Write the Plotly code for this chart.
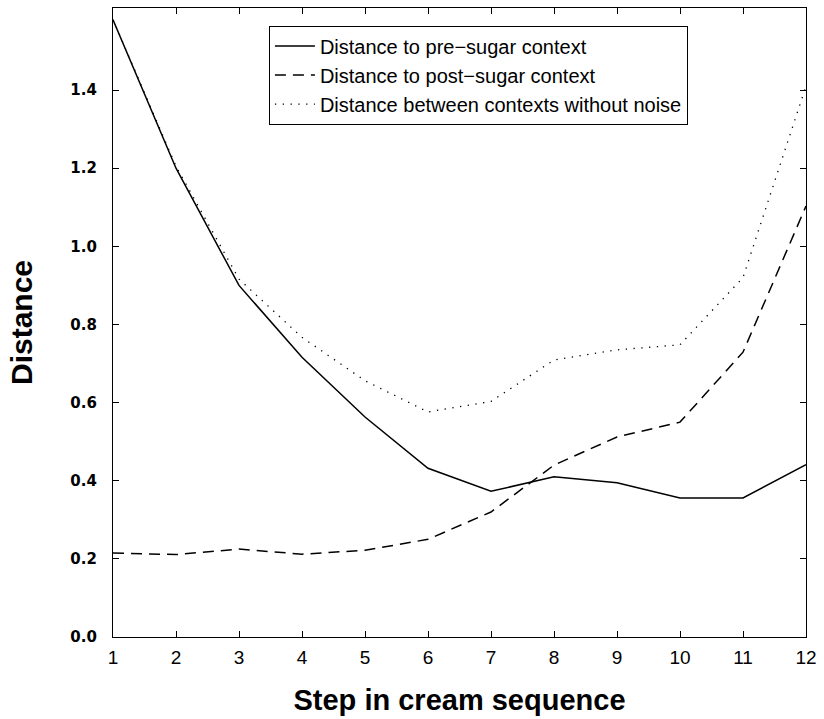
import plotly.graph_objects as go

steps = [1, 2, 3, 4, 5, 6, 7, 8, 9, 10, 11, 12]
pre_sugar = [1.58, 1.20, 0.90, 0.716, 0.563, 0.432, 0.373, 0.410, 0.395, 0.356, 0.356, 0.441]
post_sugar = [0.215, 0.211, 0.225, 0.212, 0.222, 0.250, 0.320, 0.440, 0.512, 0.550, 0.729, 1.103]
no_noise = [1.58, 1.205, 0.916, 0.767, 0.656, 0.576, 0.603, 0.709, 0.735, 0.748, 0.920, 1.41]

names = ["Distance to pre\u2212sugar context",
         "Distance to post\u2212sugar context",
         "Distance between contexts without noise"]
y_ticks = [0.0, 0.2, 0.4, 0.6, 0.8, 1.0, 1.2, 1.4]

font_family = "Liberation Sans, Arial, sans-serif"

fig = go.Figure()
fig.add_trace(go.Scatter(x=steps, y=pre_sugar, mode="lines", name=names[0],
                         line=dict(color="black", width=1.5)))
fig.add_trace(go.Scatter(x=steps, y=post_sugar, mode="lines", name=names[1],
                         line=dict(color="black", width=1.5, dash="11px,7px")))
fig.add_trace(go.Scatter(x=steps, y=no_noise, mode="lines", name=names[2],
                         line=dict(color="black", width=1.3, dash="1.3px,6.5px")))

fig.update_layout(
    width=824, height=719,
    margin=dict(l=113, r=13, t=7, b=82),
    paper_bgcolor="white", plot_bgcolor="white",
    font=dict(family=font_family, color="black"),
    showlegend=True,
    legend=dict(x=0.225, y=0.972, xanchor="left", yanchor="top",
                bordercolor="black", borderwidth=1, bgcolor="white",
                font=dict(size=20, family=font_family), tracegroupgap=0,
                itemwidth=40),
)
fig.update_xaxes(
    range=[1, 12], tickvals=steps, ticks="inside", ticklen=6, tickcolor="black",
    showline=True, linecolor="black", linewidth=1.2, mirror="allticks",
    showgrid=False, zeroline=False, ticklabelstandoff=3,
    tickfont=dict(size=19, family=font_family),
    title=dict(text="Step in cream sequence", standoff=22,
               font=dict(size=29, family=font_family, weight="bold")),
)
fig.update_yaxes(
    range=[0, 1.61], tickvals=y_ticks, ticktext=[f"{v:.1f}" for v in y_ticks],
    ticks="inside", ticklen=6, tickcolor="black",
    showline=True, linecolor="black", linewidth=1.2, mirror="allticks",
    showgrid=False, zeroline=False, ticklabelstandoff=12,
    tickfont=dict(size=15, family="DejaVu Sans, sans-serif", weight="bold"),
    title=dict(text="Distance", standoff=28,
               font=dict(size=30, family=font_family, weight="bold")),
)

fig.write_html("out.html",
               config={"displayModeBar": False},
               post_script="document.body.style.margin='0';document.body.style.overflow='hidden';")
